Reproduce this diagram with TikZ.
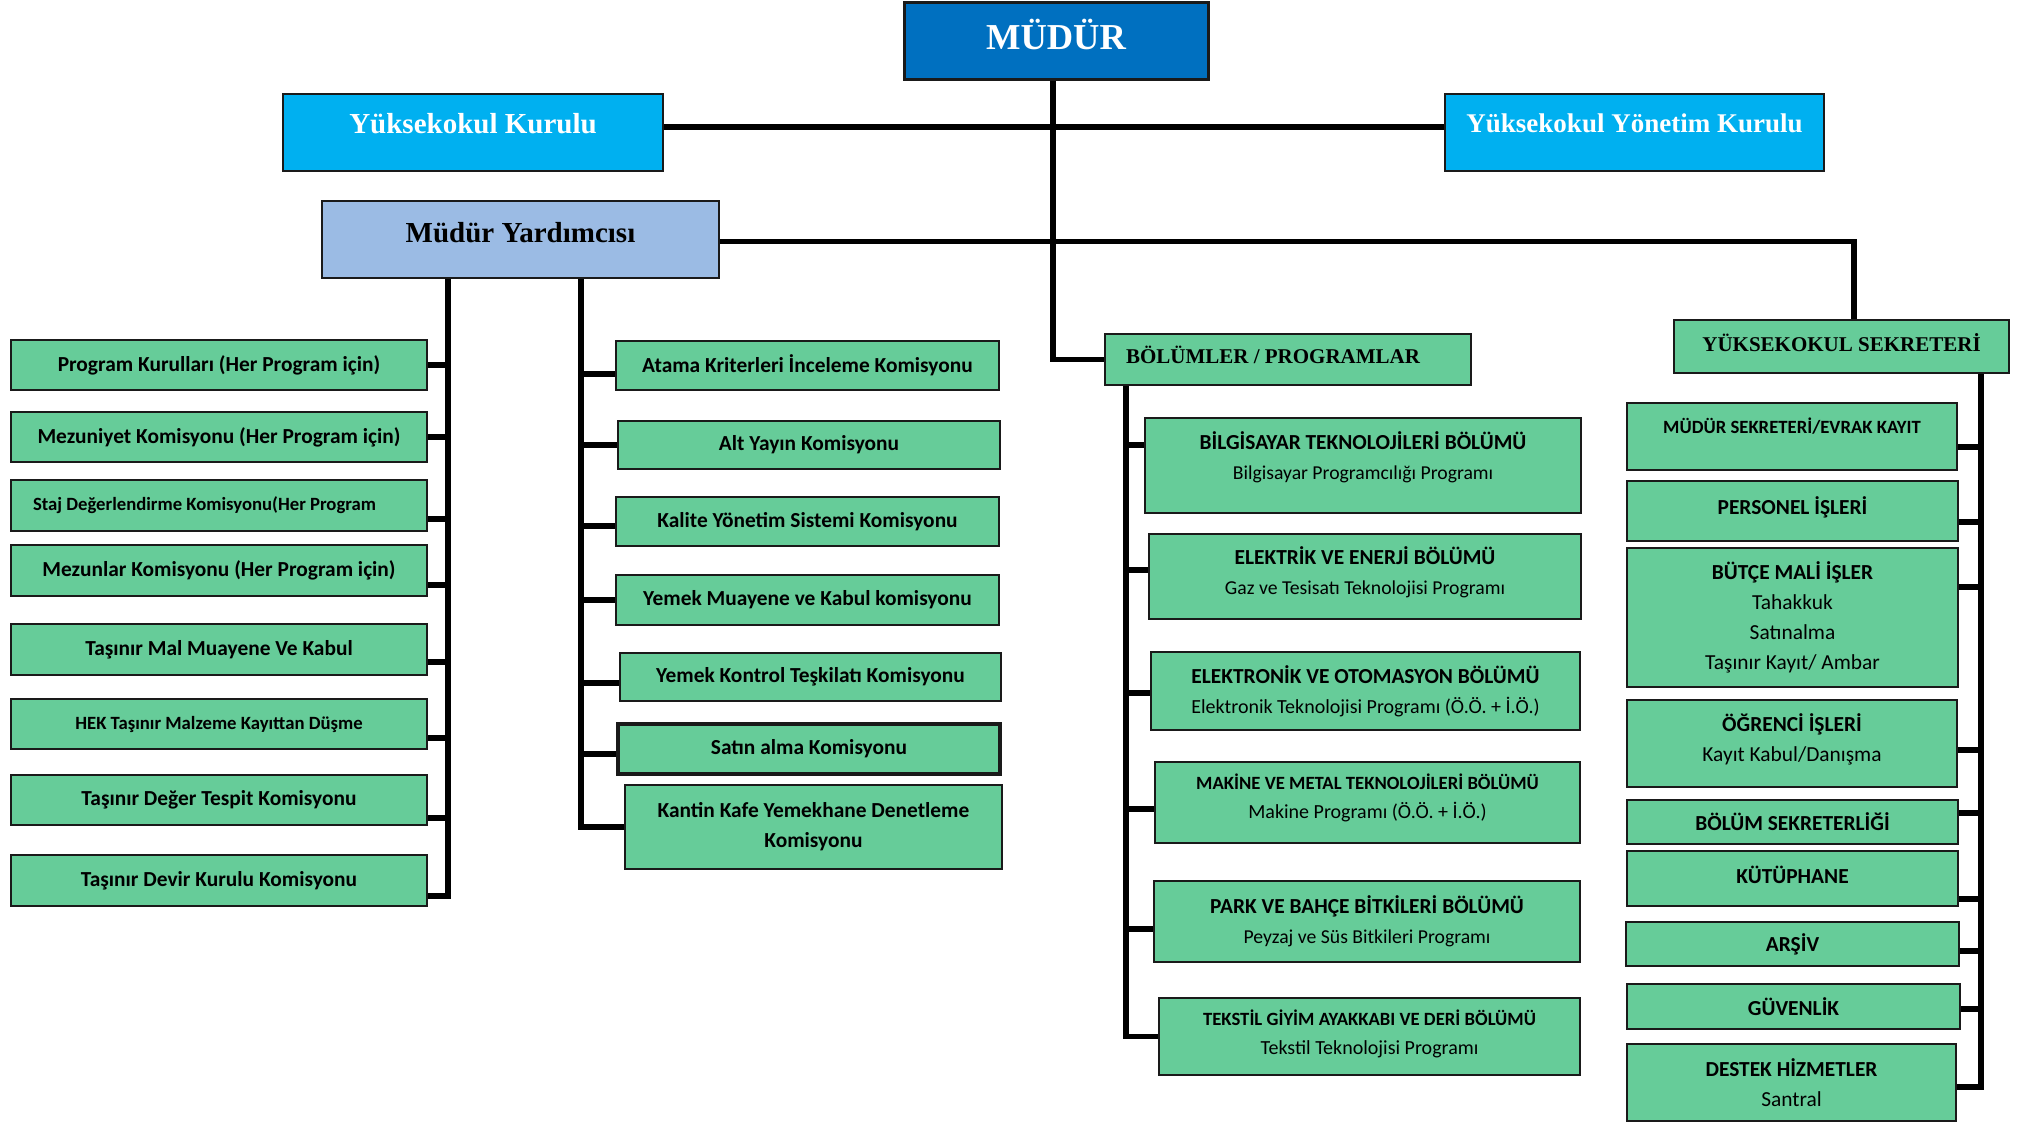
\documentclass[tikz,border=0pt]{standalone}
\usepackage{fontspec}
\setmainfont{Carlito}
\newfontfamily\tnr{Liberation Serif}
\definecolor{mudblue}{HTML}{0070C0}
\definecolor{ykblue}{HTML}{00B0F0}
\definecolor{myblue}{HTML}{9BBBE4}
\definecolor{grn}{HTML}{66CC99}
\definecolor{edge}{HTML}{1A1A1A}
\newcommand\tup[1]{\rule[-#1pt]{0pt}{#1pt}}
\begin{document}
\begin{tikzpicture}[x=1pt,y=-1pt,
  box/.style={draw=edge, line width=2.5pt, inner sep=0pt, align=center, text=black},
  gbox/.style={box, fill=grn, font=\bfseries\fontsize{21.4}{30}\selectfont},
  sbox/.style={gbox, font=\bfseries\fontsize{18.7}{30}\selectfont},
  hbox/.style={box, font=\tnr\bfseries\fontsize{29}{32}\selectfont},
  conn/.style={line width=5.5pt, black}]
\useasboundingbox (0,0) rectangle (2020,1122);

% top level
\node[hbox, fill=mudblue, text=white, line width=3pt, minimum width=304, minimum height=77, font=\tnr\bfseries\fontsize{36.5}{40}\selectfont] (mud) at (1056,40.5) {MÜDÜR\tup{13}};
\node[hbox, fill=ykblue, text=white, minimum width=380, minimum height=77] (yk) at (473,132.5) {Yüksekokul Kurulu\tup{18}};
\node[hbox, fill=ykblue, text=white, minimum width=379, minimum height=77, font=\tnr\bfseries\fontsize{27}{30}\selectfont] (yyk) at (1634.5,132.5) {Yüksekokul Yönetim Kurulu\tup{18}};
\node[hbox, fill=myblue, minimum width=397, minimum height=77] (my) at (520.5,239.5) {Müdür Yardımcısı\tup{14}};
\node[hbox, fill=grn, minimum width=366, minimum height=51, font=\tnr\bfseries\fontsize{21}{24}\selectfont] (bp) at (1288,359.5) {\makebox[324pt][l]{BÖLÜMLER / PROGRAMLAR}\tup{9}};
\node[hbox, fill=grn, minimum width=335, minimum height=53, font=\tnr\bfseries\fontsize{21}{24}\selectfont] (ys) at (1841.5,346.5) {YÜKSEKOKUL SEKRETERİ\tup{8}};

% left column
\node[gbox, minimum width=416, minimum height=50] (l1) at (219,365) {Program Kurulları (Her Program için)};
\node[gbox, minimum width=416, minimum height=50] (l2) at (219,437) {Mezuniyet Komisyonu (Her Program için)};
\node[sbox, minimum width=416, minimum height=51] (l3) at (219,505.5) {\makebox[372pt][l]{Staj Değerlendirme Komisyonu(Her Program}};
\node[gbox, minimum width=416, minimum height=51] (l4) at (219,570.5) {Mezunlar Komisyonu (Her Program için)};
\node[gbox, minimum width=416, minimum height=51] (l5) at (219,649.5) {Taşınır Mal Muayene Ve Kabul};
\node[sbox, minimum width=416, minimum height=50] (l6) at (219,724) {HEK Taşınır Malzeme Kayıttan Düşme};
\node[gbox, minimum width=416, minimum height=50] (l7) at (219,800) {Taşınır Değer Tespit Komisyonu};
\node[gbox, minimum width=416, minimum height=51] (l8) at (219,880.5) {Taşınır Devir Kurulu Komisyonu};

% middle column
\node[gbox, minimum width=383, minimum height=49] (m1) at (807.5,365.5) {Atama Kriterleri İnceleme Komisyonu};
\node[gbox, minimum width=382, minimum height=48] (m2) at (809,445) {Alt Yayın Komisyonu};
\node[gbox, minimum width=383, minimum height=49] (m3) at (807.5,521.5) {Kalite Yönetim Sistemi Komisyonu};
\node[gbox, minimum width=383, minimum height=50] (m4) at (807.5,600) {Yemek Muayene ve Kabul komisyonu};
\node[gbox, minimum width=381, minimum height=48] (m5) at (810.5,677) {Yemek Kontrol Teşkilatı Komisyonu};
\node[gbox, line width=3.5pt, minimum width=382, minimum height=50] (m6) at (809,749) {Satın alma Komisyonu};
\node[gbox, minimum width=377, minimum height=84] (m7) at (813.5,827) {Kantin Kafe Yemekhane Denetleme\\Komisyonu};

% departments
\node[gbox, minimum width=436, minimum height=95] (d1) at (1363,465.5) {BİLGİSAYAR TEKNOLOJİLERİ BÖLÜMÜ\\{\mdseries\fontsize{19.7}{30}\selectfont Bilgisayar Programcılığı Programı}\tup{20}};
\node[gbox, minimum width=432, minimum height=85] (d2) at (1365,576.5) {ELEKTRİK VE ENERJİ BÖLÜMÜ\\{\mdseries\fontsize{19.7}{30}\selectfont Gaz ve Tesisatı Teknolojisi Programı}\tup{11}};
\node[gbox, minimum width=429, minimum height=78] (d3) at (1365.5,691) {ELEKTRONİK VE OTOMASYON BÖLÜMÜ\\{\mdseries\fontsize{20}{30}\selectfont Elektronik Teknolojisi Programı (Ö.Ö. + İ.Ö.)}};
\node[gbox, minimum width=425, minimum height=81, font=\bfseries\fontsize{18.7}{29}\selectfont] (d4) at (1367.5,802.5) {MAKİNE VE METAL TEKNOLOJİLERİ BÖLÜMÜ\\{\mdseries\fontsize{20}{29}\selectfont Makine Programı (Ö.Ö. + İ.Ö.)}\tup{13}};
\node[gbox, minimum width=426, minimum height=81] (d5) at (1367,921.5) {PARK VE BAHÇE BİTKİLERİ BÖLÜMÜ\\{\mdseries\fontsize{19.7}{30}\selectfont Peyzaj ve Süs Bitkileri Programı}};
\node[gbox, minimum width=421, minimum height=77, font=\bfseries\fontsize{18.7}{29}\selectfont] (d6) at (1369.5,1036.5) {TEKSTİL GİYİM AYAKKABI VE DERİ BÖLÜMÜ\\{\mdseries\fontsize{20}{29}\selectfont Tekstil Teknolojisi Programı}\tup{8}};

% right column
\node[sbox, minimum width=330, minimum height=67] (r1) at (1792,436.5) {MÜDÜR SEKRETERİ/EVRAK KAYIT\tup{22}};
\node[gbox, minimum width=331, minimum height=60] (r2) at (1792.5,511) {PERSONEL İŞLERİ\tup{11}};
\node[gbox, minimum width=331, minimum height=139] (r3) at (1792.5,617.5) {BÜTÇE MALİ İŞLER\\{\mdseries Tahakkuk}\\{\mdseries Satınalma}\\{\mdseries Taşınır Kayıt/ Ambar}};
\node[gbox, minimum width=330, minimum height=87] (r4) at (1792,743.5) {ÖĞRENCİ İŞLERİ\\{\mdseries Kayıt Kabul/Danışma}\tup{12}};
\node[gbox, minimum width=331, minimum height=44] (r5) at (1792.5,822) {BÖLÜM SEKRETERLİĞİ};
\node[gbox, minimum width=331, minimum height=55] (r6) at (1792.5,878.5) {KÜTÜPHANE\tup{8}};
\node[gbox, minimum width=333, minimum height=44] (r7) at (1792.5,944) {ARŞİV};
\node[gbox, minimum width=333, minimum height=45] (r8) at (1793.5,1006.5) {GÜVENLİK};
\node[gbox, minimum width=329, minimum height=77] (r9) at (1791.5,1082.5) {DESTEK HİZMETLER\\{\mdseries Santral}};

% bus coordinates
\coordinate (lb) at (448,0);
\coordinate (mb) at (581,0);
\coordinate (db) at (1126,0);
\coordinate (rb) at (1981,0);

% top connectors
\draw[conn] ([yshift=5.5pt]yk.east) -- ([yshift=5.5pt]yyk.west);
\draw[conn] ([xshift=-3pt]mud.south) |- (bp.west);
\draw[conn] ([yshift=-2pt]my.east) -| ([xshift=12.5pt]ys.north);

% left bus
\draw[conn] (my.south -| lb) |- ([yshift=-15.5pt]l8.east);
\draw[conn] (l1.east) -- (l1.east -| lb);
\draw[conn] (l2.east) -- (l2.east -| lb);
\draw[conn] ([yshift=-13.5pt]l3.east) -- ([yshift=-13.5pt]l3.east -| lb);
\draw[conn] ([yshift=-14.5pt]l4.east) -- ([yshift=-14.5pt]l4.east -| lb);
\draw[conn] ([yshift=-12.5pt]l5.east) -- ([yshift=-12.5pt]l5.east -| lb);
\draw[conn] ([yshift=-14pt]l6.east) -- ([yshift=-14pt]l6.east -| lb);
\draw[conn] ([yshift=-18pt]l7.east) -- ([yshift=-18pt]l7.east -| lb);

% middle bus
\draw[conn] (my.south -| mb) |- (m7.west);
\draw[conn] ([yshift=-8.5pt]m1.west) -- ([yshift=-8.5pt]m1.west -| mb);
\draw[conn] (m2.west) -- (m2.west -| mb);
\draw[conn] ([yshift=-4.5pt]m3.west) -- ([yshift=-4.5pt]m3.west -| mb);
\draw[conn] (m4.west) -- (m4.west -| mb);
\draw[conn] ([yshift=-6pt]m5.west) -- ([yshift=-6pt]m5.west -| mb);
\draw[conn] ([yshift=-5pt]m6.west) -- ([yshift=-5pt]m6.west -| mb);

% department bus
\draw[conn] (bp.south -| db) |- (d6.west);
\draw[conn] ([yshift=20.5pt]d1.west) -- ([yshift=20.5pt]d1.west -| db);
\draw[conn] ([yshift=6.5pt]d2.west) -- ([yshift=6.5pt]d2.west -| db);
\draw[conn] ([yshift=-2pt]d3.west) -- ([yshift=-2pt]d3.west -| db);
\draw[conn] ([yshift=-6.5pt]d4.west) -- ([yshift=-6.5pt]d4.west -| db);
\draw[conn] ([yshift=-7.5pt]d5.west) -- ([yshift=-7.5pt]d5.west -| db);

% right bus
\draw[conn] (ys.south -| rb) |- ([yshift=-4.5pt]r9.east);
\draw[conn] ([yshift=-10.5pt]r1.east) -- ([yshift=-10.5pt]r1.east -| rb);
\draw[conn] ([yshift=-11pt]r2.east) -- ([yshift=-11pt]r2.east -| rb);
\draw[conn] ([yshift=30.5pt]r3.east) -- ([yshift=30.5pt]r3.east -| rb);
\draw[conn] ([yshift=-6.5pt]r4.east) -- ([yshift=-6.5pt]r4.east -| rb);
\draw[conn] ([yshift=9pt]r5.east) -- ([yshift=9pt]r5.east -| rb);
\draw[conn] ([yshift=-20.5pt]r6.east) -- ([yshift=-20.5pt]r6.east -| rb);
\draw[conn] ([yshift=-7pt]r7.east) -- ([yshift=-7pt]r7.east -| rb);
\draw[conn] ([yshift=-2.5pt]r8.east) -- ([yshift=-2.5pt]r8.east -| rb);
\end{tikzpicture}
\end{document}
